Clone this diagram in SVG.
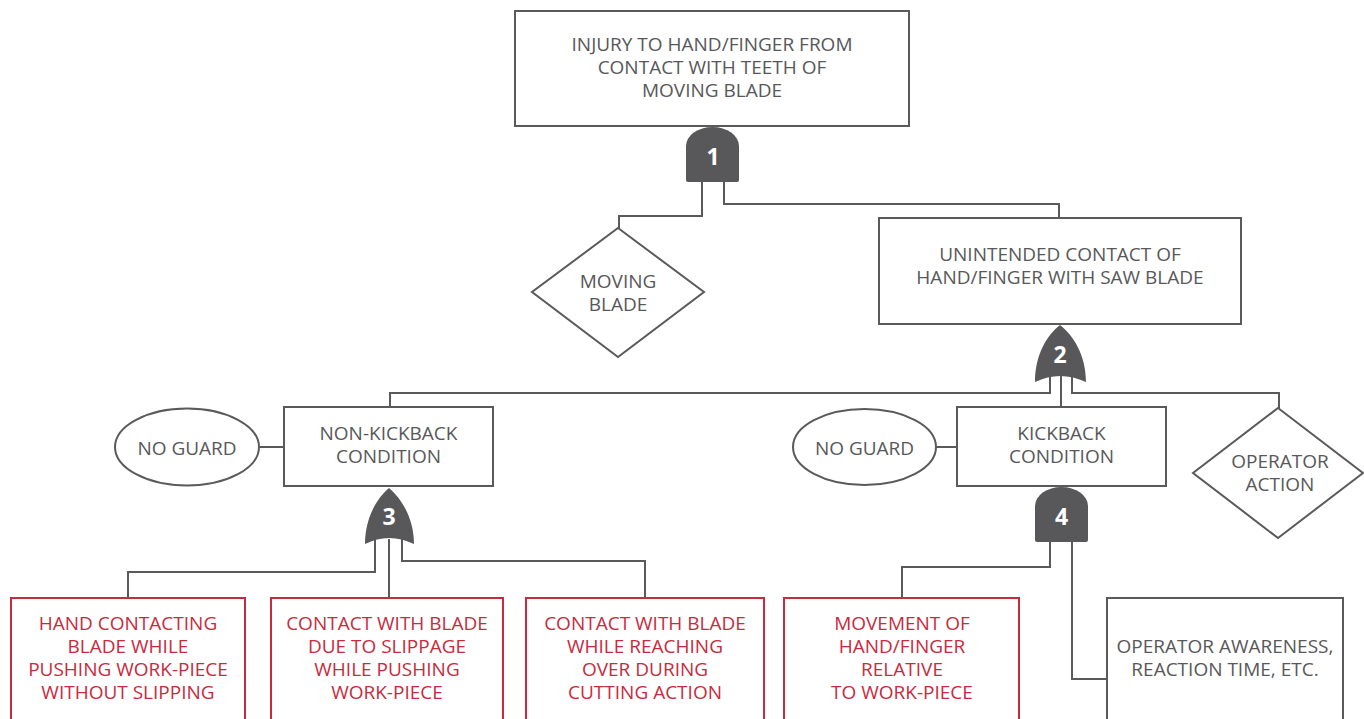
<svg xmlns="http://www.w3.org/2000/svg" width="1364" height="719" viewBox="0 0 1364 719">
<style>
.box{fill:#fff;stroke:#5a5a5c;stroke-width:2}
.rbox{fill:#fff;stroke:#c92a3e;stroke-width:2}
.t{font-family:"Open Sans","Liberation Sans",sans-serif;font-size:19px;fill:#58585a;text-anchor:middle}
.rt{font-family:"Open Sans","Liberation Sans",sans-serif;font-size:19px;fill:#c92a3e;text-anchor:middle}
.gate{fill:#58585a;stroke:none}
.gn{font-family:"Open Sans","Liberation Sans",sans-serif;font-size:23px;font-weight:bold;fill:#fff;text-anchor:middle}
.c{fill:none;stroke:#5a5a5c;stroke-width:2}
</style>
<rect width="1364" height="719" fill="#fff"/>
<g id="connectors">
<polyline class="c" points="702,180 702,216 619,216 619,228"/>
<polyline class="c" points="724,180 724,204 1059,204 1059,218"/>
<polyline class="c" points="1050,376 1050,393 390,393 390,407"/>
<polyline class="c" points="1061,376 1061,407"/>
<polyline class="c" points="1072,376 1072,393 1279,393 1279,408"/>
<line class="c" x1="259" y1="447" x2="284" y2="447"/>
<line class="c" x1="936" y1="447" x2="957" y2="447"/>
<polyline class="c" points="375,539 375,572 128,572 128,598"/>
<polyline class="c" points="389,539 389,598"/>
<polyline class="c" points="402,539 402,561 645,561 645,598"/>
<polyline class="c" points="1050,540 1050,567 902,567 902,598"/>
<polyline class="c" points="1072,540 1072,679 1107,679"/>
</g>
<g id="top-event">
<rect class="box" x="515" y="11" width="394" height="115"/>
<text class="t" x="712" y="51">INJURY TO HAND/FINGER FROM</text>
<text class="t" x="712" y="74">CONTACT WITH TEETH OF</text>
<text class="t" x="712" y="97">MOVING BLADE</text>
</g>
<g id="gate1">
<path class="gate" d="M686,180 L686,146 A26.5,19 0 0 1 739,146 L739,180 Q739,182 737,182 L688,182 Q686,182 686,180 Z"/>
<text class="gn" x="713" y="165">1</text>
</g>
<g id="moving-blade">
<polygon class="box" points="618,228 704,292 618,357 532,292"/>
<text class="t" x="618" y="288">MOVING</text>
<text class="t" x="618" y="311">BLADE</text>
</g>
<g id="unintended-contact">
<rect class="box" x="879" y="218" width="362" height="106"/>
<text class="t" x="1060" y="261">UNINTENDED CONTACT OF</text>
<text class="t" x="1060" y="284">HAND/FINGER WITH SAW BLADE</text>
</g>
<g id="gate2">
<path class="gate" d="M1060,325 C1047,335 1035,355 1035,382 Q1060,370 1086,382 C1086,355 1073,335 1060,325 Z"/>
<text class="gn" x="1060" y="363">2</text>
</g>
<g id="no-guard-1">
<ellipse class="box" cx="187" cy="447" rx="72" ry="38.5"/>
<text class="t" x="187" y="455">NO GUARD</text>
</g>
<g id="non-kickback">
<rect class="box" x="284" y="407" width="209" height="79"/>
<text class="t" x="388.5" y="440">NON-KICKBACK</text>
<text class="t" x="388.5" y="463">CONDITION</text>
</g>
<g id="no-guard-2">
<ellipse class="box" cx="864.5" cy="447" rx="71.5" ry="38"/>
<text class="t" x="864.5" y="455">NO GUARD</text>
</g>
<g id="kickback">
<rect class="box" x="957" y="407" width="209" height="79"/>
<text class="t" x="1061.5" y="440">KICKBACK</text>
<text class="t" x="1061.5" y="463">CONDITION</text>
</g>
<g id="operator-action">
<polygon class="box" points="1278,408 1363,473 1278,538 1193,473"/>
<text class="t" x="1280" y="468">OPERATOR</text>
<text class="t" x="1280" y="491">ACTION</text>
</g>
<g id="gate3">
<path class="gate" d="M389,488 C377,498 365,518 365,544 Q389,532 414,544 C414,518 401,498 389,488 Z"/>
<text class="gn" x="389" y="525">3</text>
</g>
<g id="gate4">
<path class="gate" d="M1035,540 L1035,506 A26.5,19 0 0 1 1088,506 L1088,540 Q1088,542 1086,542 L1037,542 Q1035,542 1035,540 Z"/>
<text class="gn" x="1061.5" y="525">4</text>
</g>
<g id="basic-1">
<rect class="rbox" x="11" y="598" width="234" height="130"/>
<text class="rt" x="128" y="630">HAND CONTACTING</text>
<text class="rt" x="128" y="653">BLADE WHILE</text>
<text class="rt" x="128" y="676">PUSHING WORK-PIECE</text>
<text class="rt" x="128" y="699">WITHOUT SLIPPING</text>
</g>
<g id="basic-2">
<rect class="rbox" x="271" y="598" width="232" height="130"/>
<text class="rt" x="387" y="630">CONTACT WITH BLADE</text>
<text class="rt" x="387" y="653">DUE TO SLIPPAGE</text>
<text class="rt" x="387" y="676">WHILE PUSHING</text>
<text class="rt" x="387" y="699">WORK-PIECE</text>
</g>
<g id="basic-3">
<rect class="rbox" x="526" y="598" width="238" height="130"/>
<text class="rt" x="645" y="630">CONTACT WITH BLADE</text>
<text class="rt" x="645" y="653">WHILE REACHING</text>
<text class="rt" x="645" y="676">OVER DURING</text>
<text class="rt" x="645" y="699">CUTTING ACTION</text>
</g>
<g id="basic-4">
<rect class="rbox" x="784" y="598" width="235" height="130"/>
<text class="rt" x="902" y="630">MOVEMENT OF</text>
<text class="rt" x="902" y="653">HAND/FINGER</text>
<text class="rt" x="902" y="676">RELATIVE</text>
<text class="rt" x="902" y="699">TO WORK-PIECE</text>
</g>
<g id="operator-awareness">
<rect class="box" x="1107" y="598" width="236" height="130"/>
<text class="t" x="1225" y="653">OPERATOR AWARENESS,</text>
<text class="t" x="1225" y="676">REACTION TIME, ETC.</text>
</g>
</svg>
